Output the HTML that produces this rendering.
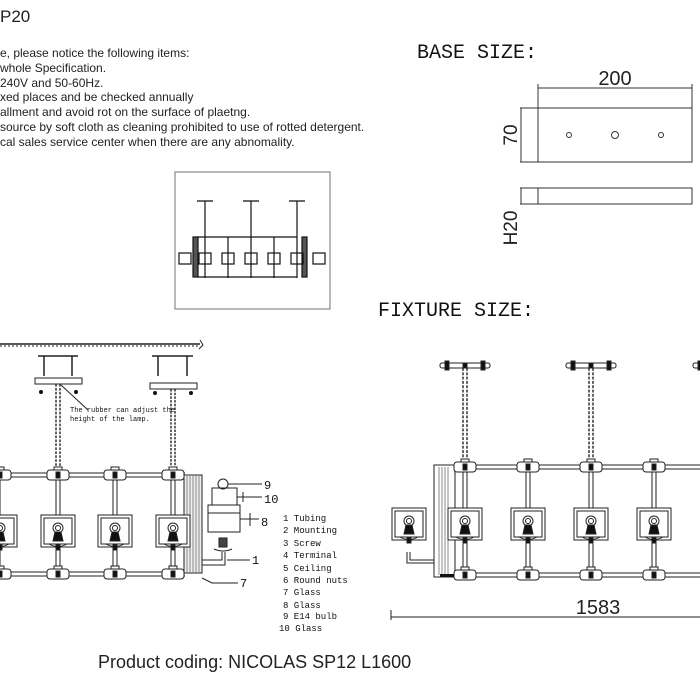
<!DOCTYPE html>
<html><head><meta charset="utf-8"><style>
html,body{margin:0;padding:0;background:#fff;width:700px;height:700px;overflow:hidden}
svg{display:block}
.t{font-family:"Liberation Sans",sans-serif;fill:#222}
.m{font-family:"Liberation Mono","DejaVu Sans Mono",monospace;fill:#111}
</style></head><body>
<svg width="700" height="700" viewBox="0 0 700 700" xmlns="http://www.w3.org/2000/svg">
<defs>
<g id="shade" stroke="#222" fill="none" stroke-width="1">
<rect x="-17" y="0" width="34" height="32" fill="#fff"/>
<rect x="-14" y="3" width="28" height="26"/>
<circle cx="0" cy="13" r="5"/>
<circle cx="0" cy="13" r="2.5"/>
<path d="M-3,17 L3,17 L5,26 L-5,26 Z" fill="#111"/>
<path d="M-9,29 Q0,34 9,29 Z" fill="#fff"/>
<rect x="-2" y="30" width="4" height="5" fill="#111"/>
</g>
<g id="node" stroke="#222" fill="#fff" stroke-width="1">
<rect x="-11" y="-5" width="22" height="10" rx="3"/>
<rect x="-4" y="-8" width="8" height="3"/>
<rect x="-2" y="-3" width="4" height="6" fill="#111"/>
</g>
<g id="chain" stroke="#222" fill="none" stroke-width="1.4">
<path d="M-2,0 V100 M2,0 V100" stroke-dasharray="3,1.5"/>
</g>
<g id="rmount" stroke="#222" fill="#fff" stroke-width="1">
<rect x="-25" y="0" width="50" height="5" rx="2"/>
<rect x="-20" y="-2" width="4" height="9" fill="#111"/>
<rect x="16" y="-2" width="4" height="9" fill="#111"/>
<rect x="-2" y="0" width="4" height="5" fill="#111"/>
</g>
</defs>

<text class="t" x="0" y="22" font-size="17">P20</text>
<g class="t" font-size="12">
<text x="0" y="57">e, please notice the following items:</text>
<text x="0" y="72">whole Specification.</text>
<text x="0" y="87">240V and 50-60Hz.</text>
<text x="0" y="101">xed places and be checked annually</text>
<text x="0" y="116">allment and avoid rot on the surface of plaetng.</text>
<text x="0" y="131">source by soft cloth as cleaning prohibited to use of rotted detergent.</text>
<text x="0" y="146">cal sales service center when there are any abnomality.</text>
</g>

<text class="m" x="417" y="58" font-size="20">BASE SIZE:</text>
<text class="t" x="615" y="85" font-size="20" text-anchor="middle">200</text>
<g stroke="#333" stroke-width="1" fill="none">
<line x1="538" y1="88" x2="692" y2="88"/>
<line x1="538" y1="84" x2="538" y2="108"/>
<line x1="692" y1="84" x2="692" y2="108"/>
<rect x="538" y="108" width="154" height="54"/>
<line x1="520" y1="108" x2="538" y2="108"/>
<line x1="520" y1="162" x2="538" y2="162"/>
<line x1="521" y1="108" x2="521" y2="162"/>
<circle cx="569" cy="135" r="2.5"/>
<circle cx="615" cy="135" r="3.5"/>
<circle cx="661" cy="135" r="2.5"/>
<rect x="538" y="188" width="154" height="16"/>
<line x1="520" y1="188" x2="538" y2="188"/>
<line x1="520" y1="204" x2="538" y2="204"/>
<line x1="521" y1="188" x2="521" y2="204"/>
</g>
<text class="t" transform="translate(517,135) rotate(-90)" font-size="19" text-anchor="middle">70</text>
<text class="t" transform="translate(517,228) rotate(-90)" font-size="19" text-anchor="middle">H20</text>

<text class="m" x="378" y="316" font-size="20">FIXTURE SIZE:</text>

<rect x="175" y="172" width="155" height="137" fill="#fff" stroke="#888" stroke-width="1.2"/>
<g stroke="#111" stroke-width="1.2" fill="none">
<path d="M197,201 H213 M205,201 V237 M243,201 H259 M251,201 V237 M289,201 H305 M297,201 V237"/>
<path d="M197,237 H297 M197,277 H297"/>
<path d="M205,237 V278 M228,237 V278 M251,237 V278 M274,237 V278 M297,237 V278"/>
<rect x="193" y="237" width="5" height="40" fill="#555"/>
<rect x="302" y="237" width="5" height="40" fill="#555"/>
<rect x="179" y="253" width="12" height="11"/><rect x="199" y="253" width="12" height="11"/><rect x="222" y="253" width="12" height="11"/><rect x="245" y="253" width="12" height="11"/><rect x="268" y="253" width="12" height="11"/><rect x="291" y="253" width="12" height="11"/><rect x="313" y="253" width="12" height="11"/>
</g>

<g stroke="#222" stroke-width="1" fill="none">
<line x1="0" y1="344" x2="200" y2="344" stroke-width="1.5"/>
<path d="M0,346 L200,346" stroke-dasharray="2,2"/>
<path d="M200,340 L203,345 L199,349"/>
<path d="M38,356 H78 M44,356 V376 M72,356 V376 M152,356 H193 M158,356 V376 M187,356 V376" stroke-width="1.5"/>
<rect x="35" y="378" width="47" height="6" fill="#fff"/>
<rect x="150" y="383" width="47" height="6" fill="#fff"/>
<line x1="61" y1="385" x2="88" y2="410"/>
</g>
<circle cx="41" cy="392" r="2" fill="#111"/><circle cx="76" cy="392" r="2" fill="#111"/>
<circle cx="155" cy="393" r="2" fill="#111"/><circle cx="191" cy="393" r="2" fill="#111"/>
<use href="#chain" transform="translate(58,384) scale(1,0.88)"/>
<use href="#chain" transform="translate(173,389) scale(1,0.82)"/>
<text class="m" x="70" y="412" font-size="7">The rubber can adjust the</text>
<text class="m" x="70" y="421" font-size="7">height of the lamp.</text>
<g stroke="#222" stroke-width="1" fill="none">
<path d="M0,473 H185 M0,477 H185 M0,572 H185 M0,576 H185"/>
<path d="M56,475 V574 M60,475 V574 M113,475 V574 M117,475 V574 M171,475 V574 M175,475 V574 M0,475 V574"/>
<rect x="184" y="475" width="18" height="98" fill="#eee"/>
<path d="M187,475 V573 M190,475 V573 M193,475 V573 M196,475 V573 M199,475 V573" stroke="#888"/>
<path d="M202,560 H222 V552 M202,565 H225 V552"/>
</g>
<use href="#shade" x="0" y="515"/><use href="#shade" x="58" y="515"/><use href="#shade" x="115" y="515"/><use href="#shade" x="173" y="515"/>
<use href="#node" x="0" y="475"/><use href="#node" x="58" y="475"/><use href="#node" x="115" y="475"/><use href="#node" x="173" y="475"/>
<use href="#node" x="0" y="574"/><use href="#node" x="58" y="574"/><use href="#node" x="115" y="574"/><use href="#node" x="173" y="574"/>
<g stroke="#222" stroke-width="1" fill="none">
<circle cx="223" cy="484" r="5"/>
<rect x="212" y="488" width="25" height="17"/>
<rect x="208" y="505" width="32" height="27" fill="#fff"/>
<line x1="208" y1="513" x2="240" y2="513"/>
<path d="M219,538 H227 V547 H219 Z" fill="#444"/>
<path d="M214,549 Q223,553 232,549"/>
<path d="M228,484 H262 M237,497 H262 M243,492 V502 M240,519 H259 M250,513 V526 M227,560 H250 M202,578 L212,583 H238"/>
</g>
<g class="m" font-size="12"><text x="264" y="489">9</text><text x="264" y="503">10</text><text x="261" y="526">8</text><text x="252" y="564">1</text><text x="240" y="587">7</text></g>
<g class="m" font-size="9">
<text x="283" y="521">1 Tubing</text><text x="283" y="533">2 Mounting</text><text x="283" y="546">3 Screw</text><text x="283" y="558">4 Terminal</text><text x="283" y="571">5 Ceiling</text><text x="283" y="583">6 Round nuts</text><text x="283" y="595">7 Glass</text><text x="283" y="608">8 Glass</text><text x="283" y="619">9 E14 bulb</text><text x="279" y="631">10 Glass</text>
</g>

<use href="#rmount" x="465" y="363"/>
<use href="#rmount" x="591" y="363"/>
<use href="#rmount" x="718" y="363"/>
<g stroke="#222" stroke-width="1" fill="none">
<path d="M455,465 H700 M455,469 H700 M455,573 H700 M455,577 H700"/>
<path d="M463,467 V575 M467,467 V575 M526,467 V575 M530,467 V575 M589,467 V575 M593,467 V575 M652,467 V575 M656,467 V575"/>
<path d="M434,465 H455 V577 H434 Z" fill="#fff"/>
<path d="M439,467 V575 M442,467 V575 M445,467 V575 M448,467 V575" stroke="#888"/>
<path d="M407,552 V563 H434 M410,552 V560 H434"/>
<line x1="391" y1="617" x2="700" y2="617"/>
<line x1="391" y1="610" x2="391" y2="620"/>
</g>
<rect x="440" y="574" width="15" height="3" fill="#111"/>
<use href="#chain" transform="translate(465,368) scale(1,0.96)"/>
<use href="#chain" transform="translate(591,368) scale(1,0.96)"/>
<use href="#shade" x="409" y="508"/><use href="#shade" x="465" y="508"/><use href="#shade" x="528" y="508"/><use href="#shade" x="591" y="508"/><use href="#shade" x="654" y="508"/>
<use href="#node" x="465" y="467"/><use href="#node" x="528" y="467"/><use href="#node" x="591" y="467"/><use href="#node" x="654" y="467"/>
<use href="#node" x="465" y="575"/><use href="#node" x="528" y="575"/><use href="#node" x="591" y="575"/><use href="#node" x="654" y="575"/>
<text class="t" x="598" y="614" font-size="20" text-anchor="middle">1583</text>

<text class="t" x="98" y="668" font-size="18">Product coding: NICOLAS SP12 L1600</text>
</svg>
</body></html>
